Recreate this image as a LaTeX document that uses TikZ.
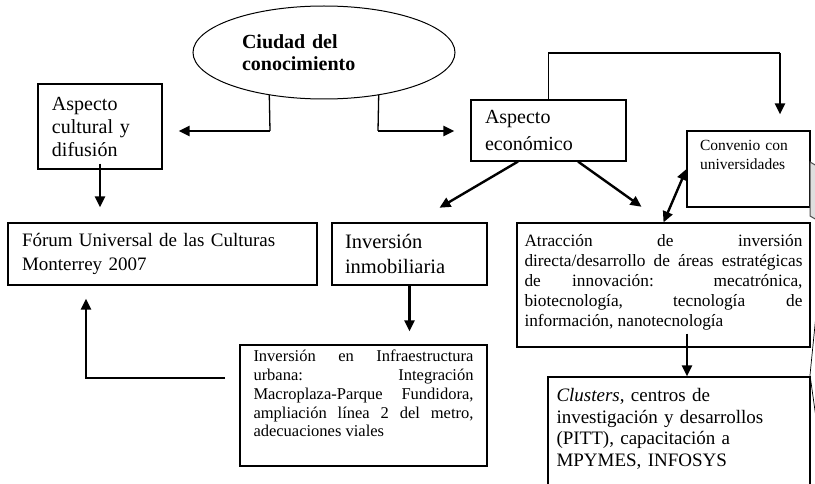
\documentclass[tikz,border=0pt]{standalone}
\usepackage{fontspec}
\setmainfont{Liberation Serif}
\usetikzlibrary{arrows.meta,shapes.geometric}
\hyphenpenalty=10000
\exhyphenpenalty=10000
\tolerance=10000
\hbadness=10000

\begin{document}
\begin{tikzpicture}[x=1pt,y=-1pt,every node/.style={inner sep=0pt},
           >={Triangle[length=11pt,width=10pt]},
           caja/.style={draw,rectangle,line width=1.1pt},
           flecha/.style={->,line width=2.4pt},
           enlace/.style={line width=1.3pt}]
  \useasboundingbox (0,0) rectangle (815,484);
  \clip (0,0) rectangle (815,484);
  % nodos
  \node[ellipse,draw,line width=1pt,minimum width=262pt,minimum height=93pt,
        text width=164pt,align=left,font=\fontsize{20}{22}\selectfont\bfseries]
        (ciudad) at (324,52.5) {Ciudad del\\conocimiento};
  \node[caja,minimum width=124pt,minimum height=85pt,text width=96pt,align=left,
        font=\fontsize{20}{23}\selectfont]
        (cultural) at (100,126.5) {Aspecto\\cultural y\\difusión};
  \node[caja,minimum width=155pt,minimum height=61pt,text width=127pt,align=left,
        font=\fontsize{20}{27}\selectfont]
        (economico) at (548.5,130.5) {Aspecto\\económico};
  \node[caja,minimum width=309pt,minimum height=62pt,text width=281pt,align=left,
        font=\fontsize{19}{23.5}\selectfont]
        (forum) at (162.5,254) {Fórum Universal de las Culturas\\Monterrey 2007};
  \node[caja,minimum width=155pt,minimum height=62pt,text width=129pt,align=left,
        font=\fontsize{20.5}{25}\selectfont]
        (inmobiliaria) at (409.5,254) {Inversión\\inmobiliaria};
  \node[caja,minimum width=247pt,minimum height=121pt,text width=220pt,align=justify,
        font=\fontsize{16.5}{18.7}\selectfont]
        (infra) at (363.5,405.5) {Inversión en Infraestructura\linebreak
        urbana: Integración\linebreak Macroplaza-Parque Fundidora,\linebreak
        ampliación línea 2 del metro,\linebreak adecuaciones viales\rule[-24pt]{0pt}{0pt}};
  \node[caja,minimum width=293pt,minimum height=124pt,text width=278pt,align=justify,
        font=\fontsize{17.3}{20}\selectfont]
        (atraccion) at (663.5,285) {\leftskip=7pt Atracción de inversión\linebreak
        directa/desarrollo de áreas estratégicas\linebreak de innovación: mecatrónica,\linebreak
        biotecnología, tecnología de\linebreak información, nanotecnología\rule[-10pt]{0pt}{0pt}};
  \node[caja,minimum width=123pt,minimum height=76pt,text width=97pt,align=left,
        font=\fontsize{15.5}{19}\selectfont]
        (convenio) at (748.5,169) {Convenio con\\universidades\rule[-29pt]{0pt}{0pt}};
  \node[caja,minimum width=262pt,minimum height=143pt,text width=245pt,align=left,
        font=\fontsize{19}{21.7}\selectfont]
        (clusters) at (679,448.5) {\textit{Clusters}, centros de\\investigación y desarrollos\\
        (PITT), capacitación a\\MPYMES, INFOSYS\rule[-42pt]{0pt}{0pt}};
  % codos
  \coordinate (kl) at (270,131);
  \coordinate (kr) at (378,131);
  \coordinate (kc) at (780,53);
  \coordinate (kf) at (86,378);
  \coordinate (ki) at (225,378);
  % conectores
  \draw[enlace] (ciudad.218) -- (kl);
  \draw[flecha,shorten >=16pt] (kl) -- (kl -| cultural.east);
  \draw[enlace] (ciudad.322) -- (kr);
  \draw[flecha,shorten >=16pt] (kr) -- (kr -| economico.west);
  \draw[flecha,shorten >=15pt] ([yshift=6pt]cultural.south) -- (cultural.south |- forum.north);
  \draw[enlace] (economico.north) |- (kc);
  \draw[flecha,shorten >=16pt] (kc) -- (kc |- convenio.north);
  \draw[flecha,shorten >=29pt] ([xshift=-30.5pt]economico.south) -- ([xshift=5pt]inmobiliaria.north);
  \draw[flecha,shorten >=27pt] ([xshift=29.5pt]economico.south) -- (atraccion.north);
  \draw[flecha,<->] (convenio.west) -- (atraccion.north);
  \draw[flecha,shorten >=13pt] (inmobiliaria.south) -- (inmobiliaria.south |- infra.north);
  \draw[flecha] ([xshift=23.5pt,yshift=14pt]atraccion.south) -- ([xshift=23.5pt]atraccion.south |- clusters.north);
  \draw[flecha,shorten >=13pt] (ki) -- (kf) -- (kf |- forum.south);
  % borde derecho
  \draw[fill=gray!25,draw=gray!60!black,line width=1pt] (810,162) -- (817,166) -- (817,220) -- (810,216) -- cycle;
  \draw[line width=0.7pt] (817,305) -- (810,375) -- (817,425);
\end{tikzpicture}
\end{document}
